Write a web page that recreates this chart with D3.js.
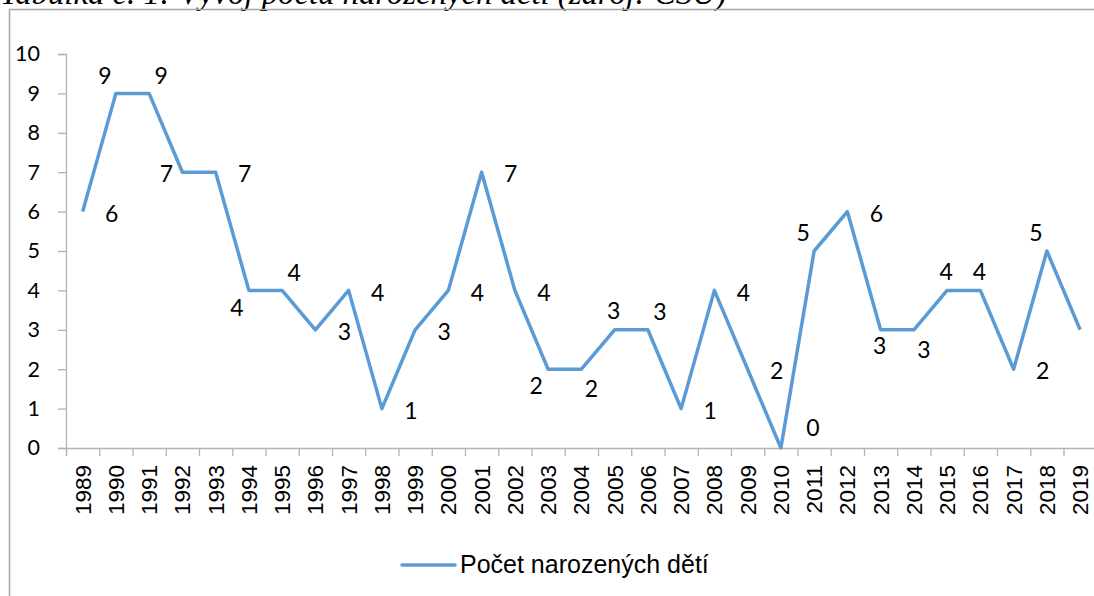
<!DOCTYPE html>
<html>
<head>
<meta charset="utf-8">
<script src="https://cdn.jsdelivr.net/npm/d3@7"></script>
<style>
  body { margin: 0; background: #fff; }
  svg { display: block; }
</style>
</head>
<body>
<div id="chart"></div>
<script>
// values
const years = d3.range(1989, 2020).map(String);
const births = [6, 9, 9, 7, 7, 4, 4, 3, 4, 1, 3, 4, 7, 4, 2, 2, 3, 3, 1, 4, 2, 0, 5, 6, 3, 3, 4, 4, 2, 5, 3];
// where each data label sits relative to its point
const labelPlace = ["r", "al", "ar", "l", "r", "bl", "ar", "r", "r", "r", "r", "r", "r", "r", "bl", "br",
  "a", "ar", "r", "r", "r", "far", "al", "r", "b", "br", "a", "a", "r", "al", "r"];
const yTicks = d3.range(0, 11);
const seriesName = "Počet narozených dětí";
const titleText = "Tabulka č. 1: Vývoj počtu narozených dětí (zdroj: ČSÚ)";

const width = 1094, height = 596;
const margin = { top: 54, left: 66, bottom: 148 };
const step = 33.25;

const svg = d3.select("#chart").append("svg")
  .attr("width", width)
  .attr("height", height);

// caption cut off by the top of the picture
const title = svg.append("text")
  .attr("x", 0)
  .attr("y", 4)
  .attr("font-family", "Liberation Serif")
  .attr("font-style", "italic")
  .attr("font-size", 24)
  .attr("fill", "#000")
  .text(titleText);
const tw = title.node().getComputedTextLength();
title.attr("font-size", 24 * 727 / tw);

// chart frame
svg.append("path")
  .attr("d", `M9.5,${height + 5}V9.5H${width + 5}`)
  .attr("fill", "none")
  .attr("stroke", "#a6a6a6")
  .attr("stroke-width", 1.5);

const x = d3.scaleBand()
  .domain(years)
  .range([margin.left, margin.left + years.length * step]);

const y = d3.scaleLinear()
  .domain([0, 10])
  .range([height - margin.bottom, margin.top]);

const xIdx = d3.scaleLinear()
  .domain([0, years.length])
  .range(x.range());

// y axis
const yAxis = svg.append("g")
  .attr("transform", `translate(${margin.left},0)`)
  .call(d3.axisLeft(y).tickValues(yTicks).tickSize(8).tickPadding(18).tickFormat(d3.format("d")));
yAxis.selectAll("text")
  .attr("font-family", "Lato")
  .attr("font-size", 21.5)
  .attr("fill", "#000");

// x axis tick marks at category edges
const xTicks = svg.append("g")
  .attr("transform", `translate(0,${y(0)})`)
  .call(d3.axisBottom(xIdx).tickValues(d3.range(years.length + 1)).tickSize(8).tickFormat(""));

// x axis labels
const xAxis = svg.append("g")
  .attr("transform", `translate(0,${y(0)})`)
  .call(d3.axisBottom(x).tickSize(0));
xAxis.select(".domain").remove();
xAxis.selectAll("text")
  .attr("font-family", "Liberation Sans")
  .attr("font-size", 22.5)
  .attr("fill", "#000")
  .attr("transform", "rotate(-90)")
  .attr("text-anchor", "end")
  .attr("x", -17)
  .attr("y", 0)
  .attr("dy", "0.36em");

[yAxis, xTicks].forEach((g) => {
  g.selectAll(".domain, line")
    .attr("stroke", "#b3b3b3")
    .attr("stroke-width", 1.3);
});

// the series
const line = d3.line()
  .x((d, i) => x(years[i]) + x.bandwidth() / 2)
  .y((d) => y(d));

svg.append("path")
  .datum(births)
  .attr("fill", "none")
  .attr("stroke", "#5b9bd5")
  .attr("stroke-width", 3.5)
  .attr("stroke-linejoin", "round")
  .attr("d", line);

// data labels
const offsets = {
  r: [29, 2],
  l: [-16, 2],
  a: [-1, -19],
  al: [-11, -18],
  ar: [12, -18],
  far: [32, -20],
  b: [-1, 16],
  bl: [-12, 17],
  br: [10, 20],
};

svg.append("g")
  .selectAll("text")
  .data(births)
  .join("text")
  .attr("x", (d, i) => x(years[i]) + x.bandwidth() / 2 + offsets[labelPlace[i]][0])
  .attr("y", (d, i) => y(d) + offsets[labelPlace[i]][1])
  .attr("dy", "0.36em")
  .attr("text-anchor", "middle")
  .attr("font-family", "Lato")
  .attr("font-size", 23)
  .attr("fill", "#000")
  .text((d) => d);

// legend
const legend = svg.append("g").attr("transform", "translate(402,565)");
legend.append("line")
  .attr("x1", 0)
  .attr("x2", 53)
  .attr("stroke", "#5b9bd5")
  .attr("stroke-width", 3.5)
  .attr("stroke-linecap", "round");
legend.append("text")
  .attr("x", 58)
  .attr("y", 8)
  .attr("font-family", "Liberation Sans")
  .attr("font-size", 25)
  .attr("fill", "#000")
  .text(seriesName);
</script>
</body>
</html>
